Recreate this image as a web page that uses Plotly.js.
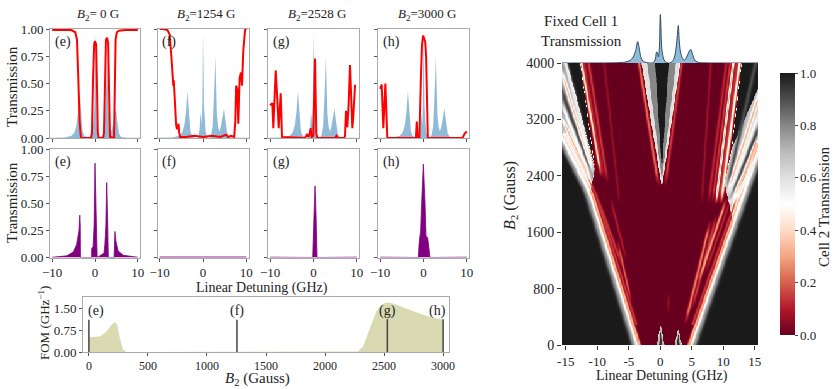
<!DOCTYPE html>
<html>
<head>
<meta charset="utf-8">
<script src="https://cdn.plot.ly/plotly-3.0.1.min.js"></script>
<style>html,body{margin:0;padding:0;background:#fff}#chart{width:833px;height:389px}</style>
</head>
<body>
<div id="chart"></div>
<script>
// cell 1 transmission (same for every top panel and the marginal plot)
const cell1X = [-16, -7, -5.5, -4.8, -4.3, -3.9, -3.6, -3.35, -3.15, -2.9, -2.5, -2.0, -1.3, -0.95, -0.75, -0.6, -0.45, -0.3, -0.15, 0.0, 0.1, 0.22, 0.4, 0.6, 0.85, 1.1, 1.5, 1.9, 2.25, 2.5, 2.7, 2.85, 3.0, 3.2, 3.5, 3.8, 4.1, 4.4, 4.65, 4.85, 5.05, 5.3, 5.6, 6.1, 7.5, 16];
const cell1Y = [0, 0.005, 0.02, 0.05, 0.12, 0.25, 0.43, 0.3, 0.15, 0.06, 0.02, 0.005, 0, 0.03, 0.1, 0.22, 0.2, 0.12, 0.3, 0.97, 0.7, 0.3, 0.15, 0.06, 0.02, 0.005, 0, 0.03, 0.12, 0.3, 0.55, 0.75, 0.45, 0.22, 0.1, 0.06, 0.1, 0.18, 0.25, 0.27, 0.2, 0.1, 0.04, 0.01, 0.002, 0];

// cell 2 transmission at B2 = 0, 1254, 2528, 3000 G
const redE_X = [-10, -5.5, -4.6, -4.2, -3.9, -3.6, -3.3, -3.1, -0.9, -0.7, -0.45, -0.2, 0.0, 0.25, 0.45, 0.65, 0.85, 1.9, 2.1, 2.3, 2.55, 2.8, 3.05, 3.3, 3.5, 4.45, 4.6, 4.8, 5.1, 5.6, 7, 10];
const redE_Y = [0.99, 0.99, 0.97, 0.9, 0.55, 0.15, 0.01, 0, 0, 0.05, 0.55, 0.86, 0.89, 0.86, 0.5, 0.05, 0, 0, 0.05, 0.6, 0.9, 0.92, 0.88, 0.4, 0.01, 0, 0.3, 0.9, 0.97, 0.985, 0.99, 0.99];
const redF_X = [-10, -9.3, -8.2, -7.7, -7.3, -7.0, -6.85, -6.75, -6.65, -6.5, -6.2, -6.0, -5.8, -5.65, -5.5, -5.3, -4.0, -2.0, 0, 2, 4, 5.3, 5.8, 6.5, 7.2, 7.45, 7.65, 7.9, 8.15, 8.45, 8.75, 9.0, 9.3, 9.7, 10];
const redF_Y = [1.0, 1.0, 0.99, 0.95, 0.75, 0.5, 0.48, 0.53, 0.43, 0.38, 0.12, 0.08, 0.12, 0.13, 0.05, 0.01, 0.01, 0.02, 0.01, 0.02, 0.01, 0.03, 0.01, 0.02, 0.01, 0.15, 0.48, 0.45, 0.13, 0.55, 0.6, 0.48, 0.8, 0.99, 1.0];
const redG_X = [-10, -9.5, -9.27, -9.04, -8.72, -8.35, -8.03, -7.57, -7.27, -2.0, -1.5, -1.2, -0.9, -0.65, -0.45, -0.05, 0.15, 0.35, 0.65, 0.9, 5.0, 5.3, 5.6, 7.1, 7.27, 7.5, 7.8, 8.1, 8.42, 8.73, 8.96, 9.19, 9.58, 9.8];
const redG_Y = [0.3, 0.32, 0.09, 0.3, 0.62, 0.35, 0.09, 0.41, 0.01, 0, 0.03, 0.01, 0.04, 0.09, 0.01, 0.02, 0.4, 0.73, 0.04, 0, 0, 0.02, 0, 0, 0.02, 0.25, 0.1, 0.3, 0.67, 0.3, 0.09, 0.2, 0.48, 0.48];
const redH_X = [-10, -9.65, -9.27, -9.04, -8.8, -8.35, -1.75, -1.55, -1.35, -0.95, -0.8, -0.6, -0.35, -0.1, 0.1, 0.4, 0.6, 0.85, 1.0, 9.0, 9.5, 10];
const redH_Y = [0.45, 0.49, 0.09, 0.35, 0.5, 0.0, 0.0, 0.15, 0.0, 0.0, 0.45, 0.55, 0.85, 0.94, 0.92, 0.88, 0.75, 0.2, 0.0, 0.0, 0.04, 0.06];

// combined transmission (bottom row)
const purpleE_X = [-10, -6.6, -5.05, -4.28, -3.73, -3.55, -3.45, -3.4, -0.78, -0.77, -0.45, -0.2, 0.0, 0.2, 0.39, 0.5, 2.1, 2.3, 2.55, 2.73, 2.97, 3.1, 4.45, 4.5, 4.65, 4.88, 5.4, 6.6, 8.9, 10];
const purpleE_Y = [0.002, 0.015, 0.05, 0.12, 0.25, 0.39, 0.3, 0, 0, 0.08, 0.1, 0.3, 0.87, 0.6, 0.3, 0, 0.04, 0.12, 0.3, 0.69, 0.3, 0, 0, 0.05, 0.24, 0.15, 0.06, 0.02, 0.005, 0.002];
const purpleF_X = [-10, 10];
const purpleF_Y = [0.005, 0.005];
const purpleG_X = [-10, -0.18, 0.05, 0.35, 0.58, 0.81, 10];
const purpleG_Y = [0.003, 0.0, 0.3, 0.66, 0.4, 0.0, 0.003];
const purpleH_X = [-10, -1.2, -0.97, -0.65, -0.42, -0.04, 0.35, 0.58, 0.97, 1.27, 1.5, 10];
const purpleH_Y = [0.003, 0.0, 0.15, 0.25, 0.5, 0.86, 0.5, 0.2, 0.18, 0.05, 0.0, 0.003];

// figure of merit vs B2
const fomB = [0, 93, 150, 193, 221, 240, 262, 290, 318, 1500, 1800, 2100, 2280, 2322, 2350, 2393, 2435, 2477, 2520, 2562, 2633, 2718, 2802, 2887, 3000];
const fomV = [0.5, 0.53, 0.7, 0.93, 1.02, 0.93, 0.48, 0.08, 0, 0.005, 0.015, 0.01, 0.02, 0.19, 0.48, 0.99, 1.39, 1.61, 1.69, 1.67, 1.56, 1.42, 1.31, 1.19, 1.1];
const markerB = [0, 1254, 2528, 3000];
const markerTop = [1.1, 1.1, 1.12, 1.12];
const panelLabels = ["(e)", "(f)", "(g)", "(h)"];
const b2Titles = ["<i>B</i><sub>2</sub>= 0 G", "<i>B</i><sub>2</sub>=1254 G", "<i>B</i><sub>2</sub>=2528 G", "<i>B</i><sub>2</sub>=3000 G"];

// heatmap features: regions [x GHz, B gauss] and their value
const regionPolys = [
  [[-16, 0], [-3.7, 0], [-11.2, 2150], [-16, 3000]],
  [[4.8, 0], [16, 0], [16, 2870]],
  [[-11.2, 2150], [-16, 3000], [-16, 4050], [-15.0, 4050], [-10.5, 2500]],
  [[-15.0, 4050], [-12.8, 4050], [-10.5, 2550]],
  [[11.5, 1750], [16, 2870], [16, 3750], [11.3, 2800], [10.2, 2300]],
  [[12.9, 4050], [16, 4050], [16, 3750], [11.3, 2800]],
  [[0.2, 2250], [-3.1, 4050], [3.2, 4050]],
  [[0.2, 2350], [-2.2, 4050], [2.5, 4050]],
  [[0.2, 2480], [-0.9, 4050], [1.3, 4050]],
  [[-0.6, 0], [0, 290], [0.6, 0]],
  [[-0.25, 0], [0, 200], [0.25, 0]],
  [[2.2, 0], [2.8, 230], [3.4, 0]],
  [[2.55, 0], [2.8, 160], [3.05, 0]]
];
const regionVals = [1.0, 1.0, 0.78, 1.0, 0.68, 1.0, 0.6, 0.8, 1.0, 0.7, 0.95, 0.7, 0.95];

// stripes: [x0, B0, x1, B1, half width, value]
const fanLines = [
  [-10.6, 2450, -15.2, 4050, 0.4, 0.55],
  [-10.7, 2400, -15.9, 3950, 0.4, 0.35],
  [-10.8, 2370, -16, 3700, 0.4, 0.92],
  [-10.9, 2330, -16, 3500, 0.4, 0.5],
  [-11.0, 2300, -16, 3300, 0.4, 0.33],
  [-11.1, 2250, -16, 3150, 0.4, 0.55],
  [-12.6, 4050, -9.4, 2400, 0.3, 0.45],
  [-12.2, 4050, -9.0, 2350, 0.3, 0.12],
  [-11.5, 4050, -8.4, 2300, 0.3, 0.15],
  [10.5, 2200, 15.2, 4050, 0.4, 0.9],
  [10.6, 2150, 16, 3650, 0.4, 0.33],
  [10.8, 2100, 16, 3400, 0.4, 0.52],
  [11.0, 2050, 16, 3200, 0.4, 0.92],
  [11.1, 2000, 16, 3000, 0.4, 0.35],
  [11.2, 1950, 16, 2800, 0.4, 0.55],
  [7.57, 2000, 10.5, 4050, 0.3, 0.12],
  [8.17, 2000, 11.1, 4050, 0.25, 0.15],
  [8.77, 2000, 11.6, 4050, 0.25, 0.7],
  [9.17, 2000, 12.1, 4050, 0.3, 0.12],
  [9.57, 2000, 12.6, 4050, 0.3, 0.5],
  [6.5, 2000, 8.0, 4050, 0.25, 0.07]
];
const edgeLines = [
  [-4.25, 0, -11.75, 2150, 0.5, 0.8],
  [-3.75, 0, -11.25, 2150, 0.4, 0.52],
  [-3.3, 0, -10.8, 2150, 0.3, 0.33],
  [-3.85, 300, -10.3, 2150, 0.3, 0.15],
  [-11.75, 2150, -16.5, 3000, 0.5, 0.8],
  [-11.25, 2150, -16, 3000, 0.4, 0.52],
  [-10.8, 2150, -15.55, 3000, 0.3, 0.33],
  [-10.3, 2150, -15.05, 3000, 0.3, 0.15],
  [5.35, 0, 16.55, 2870, 0.5, 0.8],
  [4.85, 0, 16.05, 2870, 0.4, 0.52],
  [4.4, 0, 15.6, 2870, 0.3, 0.33],
  [5.07, 300, 15.1, 2870, 0.3, 0.15]
];
const innerLines = [
  [-6.0, 1100, -10.0, 2100, 0.3, 0.15],
  [-5.4, 1200, -8.0, 2100, 0.25, 0.1],
  [-4.6, 600, -6.9, 1500, 0.25, 0.2],
  [-6.5, 2000, -9.0, 4050, 0.25, 0.06],
  [-0.3, 2250, -3.5, 4050, 0.3, 0.22],
  [0.7, 2250, 3.4, 4050, 0.3, 0.15],
  [3.9, 300, 7.9, 1770, 0.3, 0.25],
  [4.95, 500, 8.9, 1870, 0.3, 0.15],
  [6.0, 900, 10.5, 2100, 0.3, 0.3],
  [7.0, 1000, 11.2, 2100, 0.25, 0.12],
  [1.2, 450, 1.3, 750, 0.25, 0.1]
];

const rdgy = [[0, "#67001f"], [0.1, "#b2182b"], [0.2, "#d6604d"], [0.3, "#f4a582"], [0.4, "#fddbc7"], [0.5, "#ffffff"],
  [0.6, "#e0e0e0"], [0.7, "#bababa"], [0.8, "#878787"], [0.9, "#4d4d4d"], [1, "#1a1a1a"]];

function inside(x, y, poly) {
  let c = false;
  for (let i = 0, j = poly.length - 1; i < poly.length; j = i++) {
    const [xi, yi] = poly[i], [xj, yj] = poly[j];
    if ((yi > y) !== (yj > y) && x < (xj - xi) * (y - yi) / (yj - yi) + xi) c = !c;
  }
  return c;
}
function regionValue(x, b) {
  let v = 0;
  regionPolys.forEach((p, k) => { if (inside(x, b, p)) v = regionVals[k]; });
  return v;
}
const clamp01 = t => Math.min(1, Math.max(0, t));
function paint(v, x, b, line, taper) {
  const [x0, b0, x1, b1, hw, val] = line;
  const lo = Math.min(b0, b1), hi = Math.max(b0, b1);
  if (b < lo || b > hi) return v;
  const xl = x0 + (b - b0) * (x1 - x0) / (b1 - b0);
  const s = hw * 0.55;
  let w = Math.exp(-0.5 * ((x - xl) / s) ** 2);
  if (taper) w *= clamp01((b - lo) / 200) * (hi >= 4000 ? 1 : clamp01((hi - b) / 200));
  return v * (1 - w) + val * w;
}

const dX = 0.1, dB = 15;
const hmX = [], hmB = [];
for (let i = 0; i <= 312; i++) hmX.push(-15.6 + i * dX);
for (let j = 0; j <= 267; j++) hmB.push(j * dB);
const subOff = [-0.25, 0.25];
const hmZ = hmB.map(b => hmX.map(x => {
  let v = 0;
  subOff.forEach(sx => subOff.forEach(sb => { v += regionValue(x + sx * dX, b + sb * dB); }));
  v /= 4;
  innerLines.forEach(l => { v = paint(v, x, b, l, true); });
  edgeLines.forEach(l => { v = paint(v, x, b, l, false); });
  fanLines.forEach(l => { v = paint(v, x, b, l, true); });
  return v;
}));

const W = 833, H = 389;
const px = x => x / W;
const py = y => 1 - y / H;
const FONT = "Liberation Serif, serif";

const redSets = [[redE_X, redE_Y], [redF_X, redF_Y], [redG_X, redG_Y], [redH_X, redH_Y]];
const purpleSets = [[purpleE_X, purpleE_Y], [purpleF_X, purpleF_Y], [purpleG_X, purpleG_Y], [purpleH_X, purpleH_Y]];
const colsPx = [[50, 140], [157.5, 248.5], [268, 359], [378, 469]];

const traces = [];
redSets.forEach(([rx, ry], i) => {
  const n = i === 0 ? "" : i + 1;
  traces.push({ x: cell1X, y: cell1Y, type: "scatter", mode: "lines", fill: "tozeroy",
    fillcolor: "rgba(31,119,180,0.5)", line: { width: 0, color: "rgba(31,119,180,0.5)" },
    xaxis: "x" + n, yaxis: "y" + n, hoverinfo: "skip" });
  traces.push({ x: rx, y: ry, type: "scatter", mode: "lines", line: { color: "#ff0000", width: 2 },
    xaxis: "x" + n, yaxis: "y" + n, hoverinfo: "skip" });
});
purpleSets.forEach(([qx, qy], i) => {
  traces.push({ x: qx, y: qy, type: "scatter", mode: "lines", fill: "tozeroy",
    fillcolor: "#800080", line: { width: 0.8, color: "#800080" },
    xaxis: "x" + (i + 5), yaxis: "y" + (i + 5), hoverinfo: "skip" });
});

// FOM
traces.push({ x: fomB, y: fomV, type: "scatter", mode: "lines", fill: "tozeroy",
  fillcolor: "rgba(128,128,0,0.3)", line: { width: 0 }, xaxis: "x9", yaxis: "y9", hoverinfo: "skip" });
const vlx = [], vly = [];
markerB.forEach((b, i) => { vlx.push(b, b, null); vly.push(0, markerTop[i], null); });
traces.push({ x: vlx, y: vly, type: "scatter", mode: "lines", line: { color: "#444", width: 1.5 },
  xaxis: "x9", yaxis: "y9", hoverinfo: "skip" });

// heatmap + marginal
traces.push({ type: "heatmap", x: hmX, y: hmB, z: hmZ, xaxis: "x10", yaxis: "y10", zmin: 0, zmax: 1,
  colorscale: rdgy, zsmooth: "best", hoverinfo: "skip",
  colorbar: { x: px(770), xanchor: "left", y: py(345), yanchor: "bottom", len: (345 - 63) / H, lenmode: "fraction",
    thickness: 15, thicknessmode: "pixels", outlinewidth: 0, ticks: "outside", ticklen: 3,
    tickvals: [0, 0.2, 0.4, 0.6, 0.8, 1.0], ticktext: ["0.0", "0.2", "0.4", "0.6", "0.8", "1.0"],
    tickfont: { family: FONT, size: 13 } } });
traces.push({ x: cell1X, y: cell1Y, type: "scatter", mode: "lines", fill: "tozeroy",
  fillcolor: "rgba(31,119,180,0.5)", line: { color: "#2d4a66", width: 1, shape: "spline", smoothing: 0.8 },
  xaxis: "x11", yaxis: "y11", hoverinfo: "skip" });

const frame = {
  showline: true, mirror: true, linecolor: "#aaaaaa", linewidth: 1, ticks: "outside", ticklen: 3,
  tickcolor: "#555", showgrid: false, zeroline: false, fixedrange: true
};

const layout = {
  width: W, height: H, margin: { l: 0, r: 0, t: 0, b: 0, pad: 0 },
  paper_bgcolor: "#fff", plot_bgcolor: "#fff", showlegend: false,
  font: { family: FONT, size: 13, color: "#222" },
  annotations: []
};

for (let i = 0; i < 8; i++) {
  const n = i === 0 ? "" : i + 1;
  const col = colsPx[i % 4];
  const top = i < 4;
  layout["xaxis" + n] = Object.assign({}, frame, {
    domain: [px(col[0]), px(col[1])], anchor: "y" + n, range: [-10.5, 10.5],
    tickvals: [-10, 0, 10], showticklabels: !top, tickfont: { family: FONT, size: 13 }
  });
  layout["yaxis" + n] = Object.assign({}, frame, {
    domain: top ? [py(138), py(29)] : [py(257.5), py(149)], anchor: "x" + n, range: [0, 1.0],
    tickvals: [0, 0.25, 0.5, 0.75, 1.0], tickformat: ".2f", showticklabels: i % 4 === 0,
    tickfont: { family: FONT, size: 13 }
  });
  layout.annotations.push({ xref: "x" + n + " domain", yref: "y" + n + " domain", x: 0.03, y: 0.97,
    xanchor: "left", yanchor: "top", text: panelLabels[i % 4], showarrow: false, font: { family: FONT, size: 14 } });
}
colsPx.forEach((c, i) => {
  layout.annotations.push({ xref: "paper", yref: "paper", x: px((c[0] + c[1]) / 2 + 3), y: py(14),
    xanchor: "center", yanchor: "middle", text: b2Titles[i], showarrow: false, font: { family: FONT, size: 13 } });
});

layout.xaxis9 = Object.assign({}, frame, {
  domain: [px(83), px(449)], anchor: "y9", range: [-50, 3050],
  tickvals: [0, 500, 1000, 1500, 2000, 2500, 3000], tickfont: { family: FONT, size: 12 }
});
layout.yaxis9 = Object.assign({}, frame, {
  domain: [py(352), py(297)], anchor: "x9", range: [0, 1.875],
  tickvals: [0, 0.75, 1.5], tickformat: ".2f", tickfont: { family: FONT, size: 13 }
});
markerB.forEach((b, i) => {
  layout.annotations.push({ xref: "x9", yref: "y9", x: b, y: 1.41, text: panelLabels[i],
    xanchor: "center", yanchor: "middle", xshift: [7, 0, 0, -6][i], showarrow: false, font: { family: FONT, size: 14 } });
});

layout.xaxis10 = {
  domain: [px(562), px(758)], anchor: "y10", range: [-15.6, 15.5], showgrid: false, zeroline: false,
  ticks: "outside", ticklen: 4, tickcolor: "#333", tickvals: [-15, -10, -5, 0, 5, 10, 15],
  ticktext: ["-15", "-10", "-5", "0", "5", "10", "15"], tickfont: { family: FONT, size: 13 }, fixedrange: true
};
layout.yaxis10 = {
  domain: [py(345), py(63)], anchor: "x10", range: [0, 4000], showgrid: false, zeroline: false,
  ticks: "outside", ticklen: 4, tickcolor: "#333", tickvals: [0, 800, 1600, 2400, 3200, 4000],
  tickfont: { family: FONT, size: 14 }, fixedrange: true
};
layout.xaxis11 = { domain: [px(562), px(758)], anchor: "y11", range: [-15.6, 15.5], visible: false, fixedrange: true };
layout.yaxis11 = { domain: [py(63), py(8)], anchor: "x11", range: [0, 1.1], visible: false, fixedrange: true };

const txt = (x, y, text, size, angle) => ({ xref: "paper", yref: "paper", x: px(x), y: py(y), text: text,
  xanchor: "center", yanchor: "middle", showarrow: false, textangle: angle || 0, font: { family: FONT, size: size } });
layout.annotations.push(
  txt(12, 87, "Transmission", 15, -90),
  txt(12, 203, "Transmission", 15, -90),
  txt(262, 288, "Linear Detuning (GHz)", 14),
  txt(44, 323, "FOM (GHz<sup>−1</sup>)", 13, -90),
  txt(257, 379, "<i>B</i><sub>2</sub> (Gauss)", 15),
  txt(510, 196, "<i>B</i><sub>2</sub> (Gauss)", 16, -90),
  txt(662, 376, "Linear Detuning (GHz)", 14),
  txt(824, 207, "Cell 2 Transmission", 15, -90),
  txt(581, 31, "Fixed Cell 1<br>Transmission", 15)
);

Plotly.newPlot("chart", traces, layout, { displayModeBar: false, staticPlot: true });
</script>
</body>
</html>
